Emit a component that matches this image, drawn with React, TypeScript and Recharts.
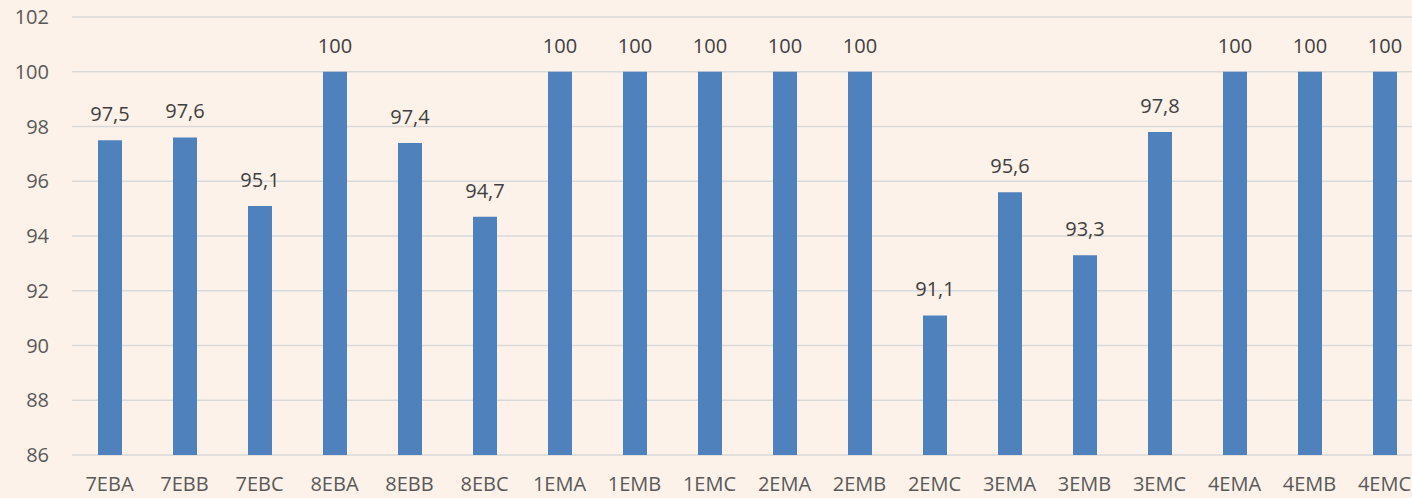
import React from "react";
import { BarChart, Bar, XAxis, YAxis, CartesianGrid, LabelList } from "recharts";

const categories = ["7EBA", "7EBB", "7EBC", "8EBA", "8EBB", "8EBC", "1EMA", "1EMB", "1EMC", "2EMA", "2EMB", "2EMC", "3EMA", "3EMB", "3EMC", "4EMA", "4EMB", "4EMC"];
const values = [97.5, 97.6, 95.1, 100, 97.4, 94.7, 100, 100, 100, 100, 100, 91.1, 95.6, 93.3, 97.8, 100, 100, 100];
const yTicks = [86, 88, 90, 92, 94, 96, 98, 100, 102];

const data = categories.map((c, i) => ({ name: c, value: values[i] }));

const FONT = "'Open Sans', sans-serif";
const BG = "#FDF2E9";

export default function App() {
  return (
    <div style={{ position: "fixed", left: 0, top: 0, width: 1412, height: 498, overflow: "hidden", background: BG }}>
      <BarChart width={1430} height={498} data={data} margin={{ top: 17, right: 8, bottom: 0, left: 0 }} barSize={24}>
        <CartesianGrid vertical={false} stroke="#D9D9D9" strokeWidth={1.5} />
        <XAxis
          dataKey="name"
          axisLine={false}
          tickLine={false}
          tickSize={0}
          tickMargin={22}
          height={43}
          interval={0}
          tick={{ fill: "#595959", fontSize: 20, fontFamily: FONT }}
        />
        <YAxis
          domain={[86, 102]}
          ticks={yTicks}
          axisLine={false}
          tickLine={false}
          tickSize={0}
          tickMargin={23}
          width={72}
          allowDataOverflow
          tick={{ fill: "#595959", fontSize: 20, fontFamily: FONT }}
        />
        <Bar dataKey="value" fill="#4F81BD" isAnimationActive={false}>
          <LabelList
            dataKey="value"
            position="top"
            offset={19}
            formatter={(v: any) => String(v).replace(".", ",")}
            style={{ fill: "#404040", fontSize: 20, fontFamily: FONT }}
          />
        </Bar>
      </BarChart>
    </div>
  );
}
